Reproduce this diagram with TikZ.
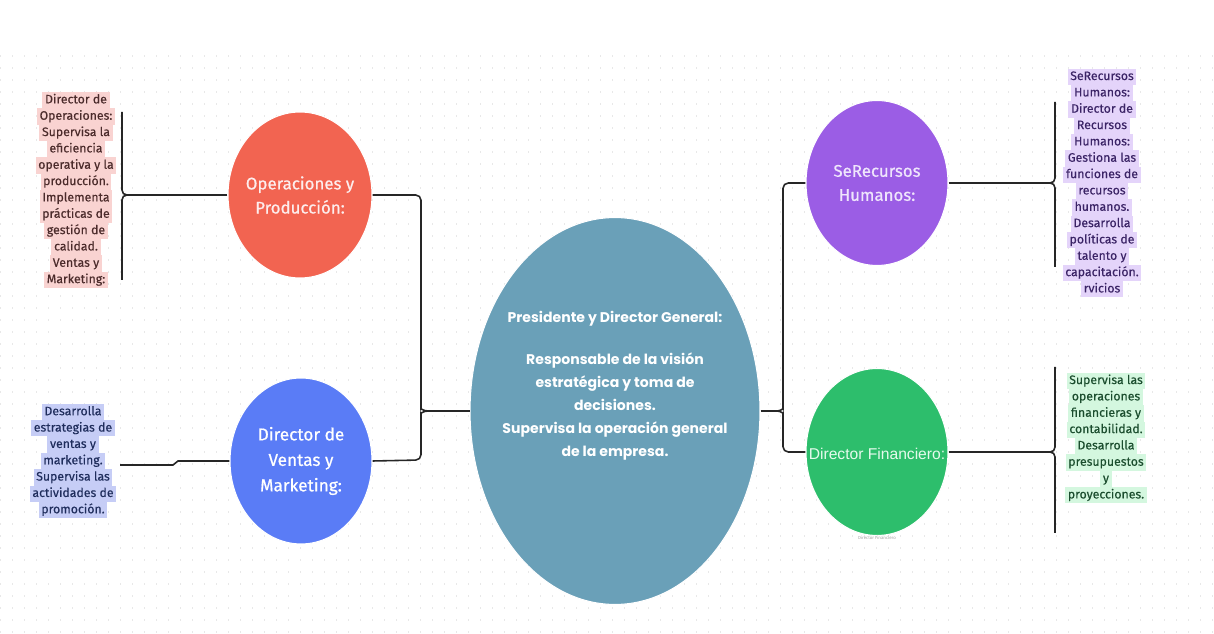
\documentclass[tikz,border=0pt]{standalone}
\usepackage{fontspec}
\setmainfont{Fira Sans}
\newfontfamily\presfont{Poppins}
\newfontfamily\medfont{Fira Sans}[FakeBold=0.6]
\newfontfamily\notefont{Fira Sans}[FakeBold=0.35]
\newfontfamily\finfont{Liberation Sans}
\usepackage{tikz}
\usetikzlibrary{shapes.geometric}

%% colours
\definecolor{prescol}{HTML}{6AA0B8}
\definecolor{opscol}{HTML}{F26451}
\definecolor{ventascol}{HTML}{5A7CF6}
\definecolor{hrcol}{HTML}{9B5DE5}
\definecolor{fincol}{HTML}{2DBE6C}
\definecolor{opshl}{HTML}{F9D3D1}
\definecolor{opsink}{HTML}{4B2B2B}
\definecolor{ventashl}{HTML}{C6CDF6}
\definecolor{ventasink}{HTML}{1F2D5C}
\definecolor{hrhl}{HTML}{E4D4FA}
\definecolor{hrink}{HTML}{3B2466}
\definecolor{finhl}{HTML}{D4F7DF}
\definecolor{finink}{HTML}{1B4D2E}
\colorlet{hlc}{white}

%% highlighted line
\setlength\fboxsep{0pt}
\newcommand\hl[1]{\colorbox{hlc}{\hspace{1.5pt}\strut#1\hspace{1.5pt}}}

\begin{document}
\begin{tikzpicture}[x=0.02cm,y=-0.02cm,
  conn/.style={draw=black!85,line width=0.9pt},
  ell/.style={ellipse,inner sep=0pt,draw=white,line width=0.6pt},
  circtxt/.style={align=center,inner sep=0pt,font=\medfont\fontsize{9.6}{13.7}\selectfont},
  sidetxt/.style={align=center,inner sep=0pt,font=\notefont\fontsize{7}{9.3}\selectfont},
  side/.style={sidetxt,text=#1ink,execute at begin node={\colorlet{hlc}{#1hl}}},
  dotrow/.style={black!9,line width=0.7pt,dash pattern=on 0.7pt off 6.13pt}]

 \useasboundingbox[fill=white] (0,0) rectangle (1214,634);

 %% dotted paper
 \foreach \y in {56,68,...,632}
   \draw[dotrow] (0,\y) -- (1214,\y);

 %%%%%%%%%%%%%%%%
 %% ellipses
 \node[ell,fill=prescol,minimum width=5.8cm,minimum height=7.74cm] (pres) at (615,411) {};
 \node[ell,fill=opscol,minimum width=2.88cm,minimum height=3.32cm] (ops) at (300,195) {};
 \node[ell,fill=ventascol,minimum width=2.84cm,minimum height=3.32cm] (ventas) at (301,461) {};
 \node[ell,fill=hrcol,minimum width=2.84cm,minimum height=3.3cm] (hr) at (877,183) {};
 \node[ell,fill=fincol,minimum width=2.84cm,minimum height=3.34cm] (fin) at (877,452) {};

 %% texts in the ellipses
 \node[align=center,inner sep=0pt,text=white,
   font=\presfont\bfseries\fontsize{8}{13.1}\selectfont] (prestxt) at (615,386)
   {Presidente y Director General:\\[11pt]
    Responsable de la visión\\estratégica y toma de\\decisiones.\\
    Supervisa la operación general\\de la empresa.};
 \node[circtxt,text=opshl!40] (opstxt) at (ops) {Operaciones y\\Producción:};
 \node[circtxt,text=white,font=\medfont\fontsize{9.8}{14.5}\selectfont] (ventastxt) at (ventas)
   {Director de\\Ventas y\\Marketing:};
 \node[circtxt,text=hrhl!60] (hrtxt) at (hr) {SeRecursos\\Humanos:};
 \node[inner sep=0pt,text=finhl!60,font=\finfont\fontsize{8.9}{10}\selectfont] (fintxt)
   at (877,454) {Director Financiero:};
 \node[inner sep=0pt,text=black!35,font=\fontsize{2.5}{3}\selectfont] (finsmall)
   at (877,538) {Director Financiero};

 %%%%%%%%%%%%%%%%
 %% side notes
 \node[side=ops] (opsnote) at (76,190)
   {\hl{Director de}\\\hl{Operaciones:}\\\hl{Supervisa la}\\\hl{eficiencia}\\
    \hl{operativa y la}\\\hl{producción.}\\\hl{Implementa}\\\hl{prácticas de}\\
    \hl{gestión de}\\\hl{calidad.}\\\hl{Ventas y}\\\hl{Marketing:}};
 \node[side=ventas] (ventasnote) at (73,461)
   {\hl{Desarrolla}\\\hl{estrategias de}\\\hl{ventas y}\\\hl{marketing.}\\
    \hl{Supervisa las}\\\hl{actividades de}\\\hl{promoción.}};
 \node[side=hr] (hrnote) at (1102,183)
   {\hl{SeRecursos}\\\hl{Humanos:}\\\hl{Director de}\\\hl{Recursos}\\\hl{Humanos:}\\
    \hl{Gestiona las}\\\hl{funciones de}\\\hl{recursos}\\\hl{humanos.}\\
    \hl{Desarrolla}\\\hl{políticas de}\\\hl{talento y}\\\hl{capacitación.}\\\hl{rvicios}};
 \node[side=fin] (finnote) at (1106,438)
   {\hl{Supervisa las}\\\hl{operaciones}\\\hl{financieras y}\\\hl{contabilidad.}\\
    \hl{Desarrolla}\\\hl{presupuestos}\\\hl{y}\\\hl{proyecciones.}};

 %%%%%%%%%%%%%%%%
 %% junction points
 \coordinate (jl) at (428,411);
 \coordinate (jr) at (777,411);
 \coordinate (opstip) at (127,195);
 \coordinate (ventastip) at (120,465);
 \coordinate (hrtip) at (1050,183);
 \coordinate (fintip) at (1050,452);

 %% centre, left side
 \draw[conn] (jl) -- (pres.west);
 \draw[conn,rounded corners=3pt] (ops.east) -- (421,195) -- (421,404)
   .. controls (421,408) and (423,411) .. (jl);
 \draw[conn,rounded corners=3pt] (ventas.east) -- (421,460) -- (421,418)
   .. controls (421,414) and (423,411) .. (jl);

 %% centre, right side
 \draw[conn] (pres.east) -- (jr);
 \draw[conn,rounded corners=3pt] (hr.west) -- (783,183) -- (783,404)
   .. controls (783,408) and (781,411) .. (jr);
 \draw[conn,rounded corners=3pt] (fin.west) -- (783,452) -- (783,418)
   .. controls (783,414) and (781,411) .. (jr);

 %% notes, left
 \draw[conn] (ops.west) -- (opstip);
 \draw[conn] (122,112) -- (122,190) .. controls (122,193) and (124,195) .. (opstip)
   .. controls (124,195) and (122,197) .. (122,200) -- (122,280);
 \draw[conn] (ventas.west) -- (178,461) -- (173,465) -- (ventastip);

 %% notes, right
 \draw[conn] (hr.east) -- (hrtip);
 \draw[conn] (1055,102) -- (1055,178) .. controls (1055,181) and (1053,183) .. (hrtip)
   .. controls (1053,183) and (1055,185) .. (1055,188) -- (1055,267);
 \draw[conn] (fin.east) -- (fintip);
 \draw[conn] (1055,367) -- (1055,447) .. controls (1055,450) and (1053,452) .. (fintip)
   .. controls (1053,452) and (1055,454) .. (1055,457) -- (1055,533);

\end{tikzpicture}
\end{document}
